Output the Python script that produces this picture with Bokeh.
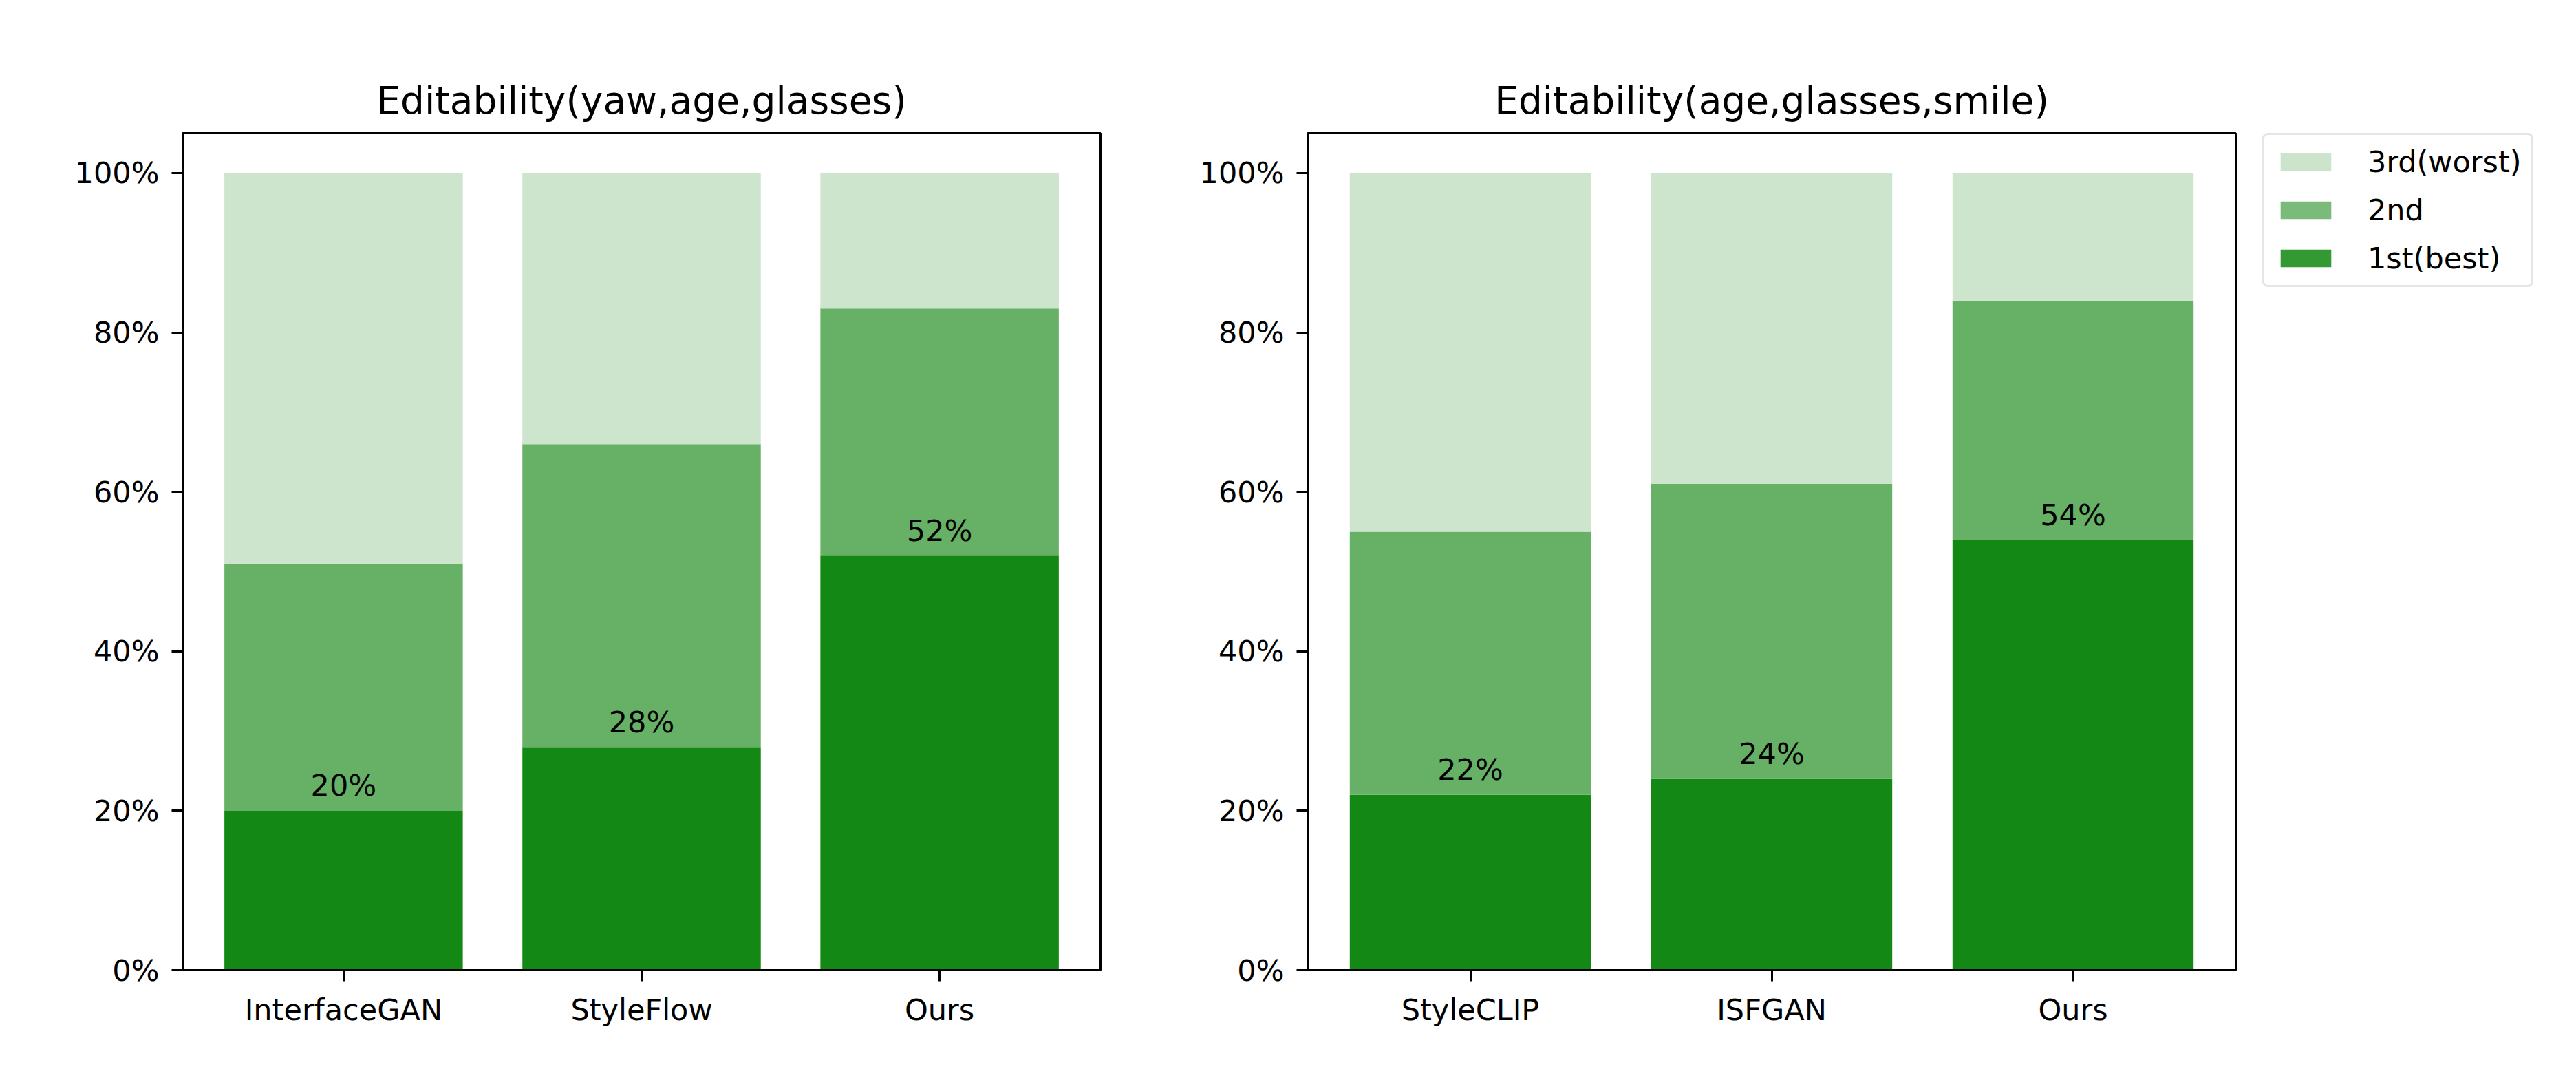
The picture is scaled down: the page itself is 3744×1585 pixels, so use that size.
from bokeh.plotting import figure
from bokeh.models import (ColumnDataSource, Range1d, FixedTicker, PrintfTickFormatter,
                          Legend, LegendItem)
from bokeh.layouts import row
from bokeh.core.properties import value
from bokeh.embed import file_html
from bokeh.resources import INLINE

# ---------------- data ----------------
titles = ["Editability(yaw,age,glasses)", "Editability(age,glasses,smile)"]
methods_left = ["InterfaceGAN", "StyleFlow", "Ours"]
first_left = [20, 28, 52]
second_left = [31, 38, 31]
third_left = [49, 34, 17]

methods_right = ["StyleCLIP", "ISFGAN", "Ours"]
first_right = [22, 24, 54]
second_right = [33, 37, 30]
third_right = [45, 39, 16]

y_ticks = [0, 20, 40, 60, 80, 100]
legend_labels = ["3rd(worst)", "2nd", "1st(best)"]

# ---------------- style ----------------
FONT = "DejaVu Sans"
C1, C2, C3 = "#148814", "#67b167", "#cde5cd"
L1, L2, L3 = "#339933", "#7aba7a", "#cce4cc"
TICK_FS = "43px"
TITLE_FS = "55px"
H = 1577


def stack_source(methods, first, second, third):
    xs = list(range(len(methods)))
    t1 = list(first)
    t2 = [a + b for a, b in zip(first, second)]
    t3 = [a + b + c for a, b, c in zip(first, second, third)]
    return ColumnDataSource(dict(x=xs, b1=[0] * len(methods), t1=t1, t2=t2, t3=t3,
                                 ly=[v + 1 for v in first],
                                 lab=[f"{v}%" for v in first]))


def make_fig(title, methods, first, second, third, width, bl, br):
    p = figure(width=width, height=H, output_backend="svg", toolbar_location=None,
               x_range=Range1d(-0.54, 2.54), y_range=Range1d(0, 105),
               min_border_left=bl, min_border_right=br,
               min_border_top=193, min_border_bottom=168)
    p.title.text = title
    p.title.align = "center"
    p.title.text_font = FONT
    p.title.text_font_size = TITLE_FS
    p.title.text_font_style = "normal"
    p.title.text_color = "black"
    p.title.standoff = 32

    src = stack_source(methods, first, second, third)
    p.vbar(x="x", bottom="b1", top="t1", width=0.8, source=src, fill_color=C1, line_color=None)
    p.vbar(x="x", bottom="t1", top="t2", width=0.8, source=src, fill_color=C2, line_color=None)
    p.vbar(x="x", bottom="t2", top="t3", width=0.8, source=src, fill_color=C3, line_color=None)
    p.text(x="x", y="ly", text="lab", source=src, text_align="center", text_baseline="bottom",
           text_font=value(FONT), text_font_size=TICK_FS, text_color="black")

    p.xgrid.visible = False
    p.ygrid.visible = False
    p.outline_line_color = "black"
    p.outline_line_width = 3
    p.outline_line_alpha = 1

    for ax in (p.xaxis[0], p.yaxis[0]):
        ax.axis_line_color = "black"
        ax.axis_line_width = 3
        ax.major_tick_line_color = "black"
        ax.major_tick_line_width = 3
        ax.major_tick_out = 16
        ax.major_tick_in = 0
        ax.minor_tick_line_color = None
        ax.major_label_text_font = FONT
        ax.major_label_text_font_size = TICK_FS
        ax.major_label_text_color = "black"
    p.xaxis.ticker = FixedTicker(ticks=list(range(len(methods))))
    p.xaxis.major_label_overrides = {i: m for i, m in enumerate(methods)}
    p.xaxis.major_label_standoff = 16
    p.yaxis.ticker = FixedTicker(ticks=y_ticks)
    p.yaxis.formatter = PrintfTickFormatter(format="%d%%")
    p.yaxis.major_label_standoff = 18
    return p


p1 = make_fig(titles[0], methods_left, first_left, second_left, third_left, 1700, 265, 101)
p2 = make_fig(titles[1], methods_right, first_right, second_right, third_right, 1588, 200, 39)

# ---------------- legend panel ----------------
p3 = figure(width=448, height=H, output_backend="svg", toolbar_location=None,
            x_range=Range1d(-0.54, 2.54), y_range=Range1d(0, 105),
            x_axis_type=None, y_axis_type=None,
            min_border_left=0, min_border_right=0, min_border_top=193, min_border_bottom=0)
p3.outline_line_color = None
p3.xgrid.visible = False
p3.ygrid.visible = False
lsrc = stack_source(methods_right, first_right, second_right, third_right)
r1 = p3.vbar(x="x", bottom="b1", top="t1", width=0.8, source=lsrc, fill_color=L1, line_color=None, visible=False)
r2 = p3.vbar(x="x", bottom="t1", top="t2", width=0.8, source=lsrc, fill_color=L2, line_color=None, visible=False)
r3 = p3.vbar(x="x", bottom="t2", top="t3", width=0.8, source=lsrc, fill_color=L3, line_color=None, visible=False)
legend = Legend(items=[LegendItem(label=legend_labels[0], renderers=[r3]),
                       LegendItem(label=legend_labels[1], renderers=[r2]),
                       LegendItem(label=legend_labels[2], renderers=[r1])],
                location="top_left")
legend.label_text_font = FONT
legend.label_text_font_size = TICK_FS
legend.label_text_color = "black"
legend.glyph_width = 92
legend.glyph_height = 32
legend.label_standoff = 44
legend.label_height = 32
legend.spacing = 20
legend.padding = 14
legend.margin = 0
legend.border_line_color = "#cccccc"
legend.border_line_width = 3
legend.background_fill_alpha = 1
if "border_radius" in Legend.properties():
    legend.border_radius = 8
p3.add_layout(legend, "center")

layout = row(p1, p2, p3)
open("out.html", "w").write(file_html(layout, INLINE))
